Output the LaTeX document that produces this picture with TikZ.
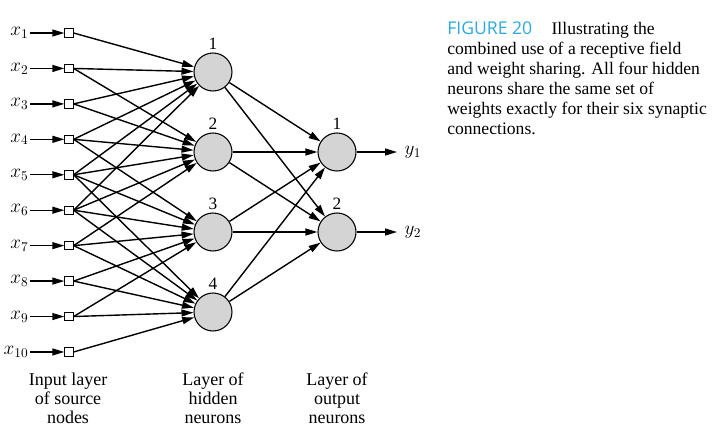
\documentclass[tikz,border=0pt]{standalone}
\usepackage{fontspec}
\setmainfont{Liberation Serif}
\newfontfamily\capfont{Open Sans}
\usetikzlibrary{arrows.meta,positioning}
\definecolor{figblue}{RGB}{41,171,226}
\tikzset{
  neuron/.style={circle,draw,fill=black!17,minimum size=28.5pt,inner sep=0pt,line width=0.8pt},
  source/.style={rectangle,draw,fill=white,minimum size=6.3pt,inner sep=0pt,line width=0.7pt},
  syn/.style={-{Triangle[length=9pt,width=5.2pt]},line width=1.05pt},
  num/.style={font=\fontsize{13}{15}\selectfont,inner sep=1pt},
  varname/.style={inner sep=1pt,font=\fontsize{14}{16}\selectfont},
  layername/.style={align=center,font=\fontsize{13.5}{14.25}\selectfont,anchor=north,inner sep=0pt}
}
\begin{document}
\begin{tikzpicture}[x=0.75pt,y=-0.75pt]
\useasboundingbox (0,0) rectangle (714,437);
% input layer of source nodes
\foreach \i in {1,...,10} {
  \pgfmathsetmacro{\yy}{33+35.44*(\i-1)}
  \node[source] (s\i) at (69,\yy) {};
  \node[varname,anchor=east] (x\i) at (30,\yy) {$x_{\i}$};
  \draw[syn] (x\i.east) -- (s\i.west);
}
% hidden neurons
\foreach \k in {1,2,3,4} {
  \pgfmathsetmacro{\yy}{72+80*(\k-1)}
  \node[neuron] (h\k) at (213,\yy) {};
  \node[num,above=1pt of h\k] (hn\k) {\k};
}
% output neurons
\foreach \k in {1,2} {
  \pgfmathsetmacro{\yy}{152+80*(\k-1)}
  \node[neuron] (o\k) at (337,\yy) {};
  \node[num,above=1pt of o\k] (on\k) {\k};
  \coordinate (e\k) at (397,\yy);
  \node[varname,anchor=west] (y\k) at (403,\yy) {$y_{\k}$};
  \draw[syn] (o\k.east) -- (e\k);
}
% receptive fields: six inputs per hidden neuron
\foreach \k/\first in {1/1,2/2,3/4,4/5} {
  \foreach \j in {0,...,5} {
    \pgfmathtruncatemacro{\i}{\first+\j}
    \draw[syn] (s\i.east) -- (h\k);
  }
}
\foreach \k in {1,2,3,4} {
  \foreach \m in {1,2} {
    \draw[syn] (h\k) -- (o\m);
  }
}
% layer names
\node[layername] (inname) at (68,373) {Input layer\\of source\\nodes};
\node[layername] (hidname) at (213,373) {Layer of\\hidden\\neurons};
\node[layername] (outname) at (337,373) {Layer of\\output\\neurons};
% caption
\node[anchor=north west,inner sep=0pt,align=left,font=\fontsize{13.2}{15}\selectfont] (caption) at (447,21)
  {{\capfont\color{figblue}FIGURE 20}\hspace{1.1em}Illustrating the\\
   combined use of a receptive field\\
   and weight sharing. All four hidden\\
   neurons share the same set of\\
   weights exactly for their six synaptic\\
   connections.};
\end{tikzpicture}
\end{document}
